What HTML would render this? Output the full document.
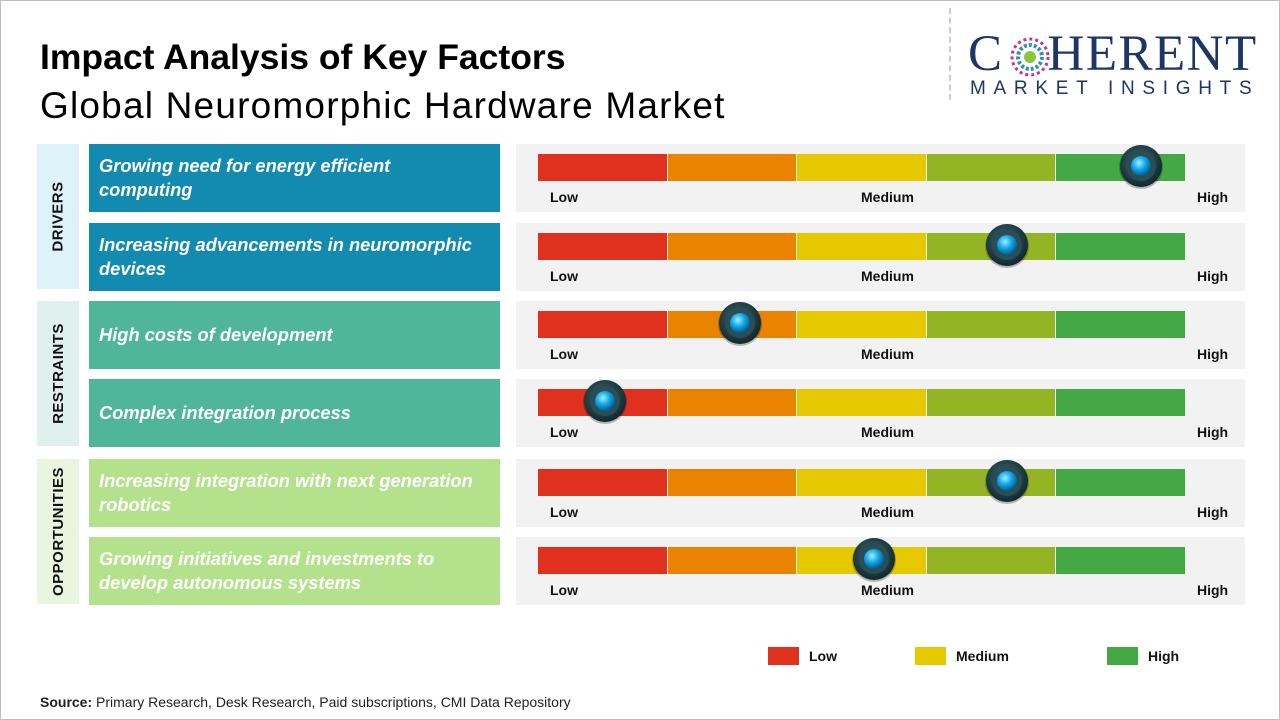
<!DOCTYPE html>
<html><head><meta charset="utf-8">
<style>
*{margin:0;padding:0;box-sizing:border-box}
body{width:1280px;height:720px;background:#fff;position:relative;overflow:hidden;font-family:"Liberation Sans",sans-serif}
.frame{position:absolute;left:0;top:0;width:1280px;height:720px;border:1px solid #bdbdbd}
.abs{position:absolute}
.t1{left:40px;top:37px;font-size:35.5px;font-weight:bold;color:#000;letter-spacing:0px}
.t2{left:40px;top:85px;font-size:37px;color:#000;letter-spacing:1.2px}
.cat{position:absolute;left:37px;width:42px;display:flex;align-items:center;justify-content:center}
.cat span{transform:rotate(-90deg);white-space:nowrap;font-size:15px;font-weight:bold;color:#111;letter-spacing:0.5px}
.fac{position:absolute;left:89px;width:411px;height:68px;color:#fff;font-style:italic;font-weight:bold;font-size:18.3px;line-height:24px;padding:0 10px;display:flex;align-items:center;white-space:nowrap}
.panel{position:absolute;left:516px;width:729px;height:68px;background:#f2f2f2}
.lbl{position:absolute;font-size:14px;font-weight:bold;color:#111}
.leg{position:absolute;top:647px;width:31px;height:18px}
.legt{position:absolute;top:648px;font-size:14px;font-weight:bold;color:#111}
</style></head><body>
<div class="frame"></div>
<div class="abs t1">Impact Analysis of Key Factors</div>
<div class="abs t2">Global Neuromorphic Hardware Market</div>
<div class="abs" style="left:949px;top:8px;height:92px;border-left:2px dashed #ccc"></div>
<div class="abs" style="left:968px;top:28px;width:300px;height:70px">
 <div style="position:absolute;left:0;top:0;font-family:'Liberation Serif',serif;font-size:51px;color:#1d3567;line-height:52px;letter-spacing:1.5px">C<span style="display:inline-block;width:44px"></span>HERENT</div>
 <svg style="position:absolute;left:42px;top:9px" width="40" height="40">
  <circle cx="20" cy="20" r="18" fill="none" stroke="#c03a8a" stroke-width="3" stroke-dasharray="3 3"/>
  <circle cx="20" cy="20" r="12" fill="none" stroke="#3a8fb0" stroke-width="4" stroke-dasharray="3 2"/>
  <circle cx="20" cy="20" r="6" fill="#8cc63f"/>
 </svg>
 <div style="position:absolute;left:2px;top:50px;font-size:19px;color:#1d3567;letter-spacing:7.7px">MARKET INSIGHTS</div>
</div>

<div class="cat" style="top:144px;height:145px;background:#def2fa"><span>DRIVERS</span></div>
<div class="cat" style="top:301px;height:145px;background:#e0f0ec"><span>RESTRAINTS</span></div>
<div class="cat" style="top:459px;height:145px;background:#e9f5df"><span>OPPORTUNITIES</span></div>

<div id="rows"></div>

<div class="leg" style="left:768px;background:#e0301e"></div>
<div class="legt" style="left:809px">Low</div>
<div class="leg" style="left:915px;background:#e6c800"></div>
<div class="legt" style="left:956px">Medium</div>
<div class="leg" style="left:1107px;background:#44a844"></div>
<div class="legt" style="left:1148px">High</div>

<div class="abs" style="left:40px;top:694px;font-size:14px;color:#222"><b>Source:</b> Primary Research, Desk Research, Paid subscriptions, CMI Data Repository</div>

<script>
const factors = ["Growing need for energy efficient\ncomputing","Increasing advancements in neuromorphic\ndevices","High costs of development","Complex integration process","Increasing integration with next generation\nrobotics","Growing initiatives and investments to\ndevelop autonomous systems"];
const impactValues = [4.65, 3.62, 1.56, 0.52, 3.62, 2.59];
const scaleLabels = ["Low","Medium","High"];
const scaleMax = 5;

const rowTops=[144,223,301,379,459,537];
const facColors=["#138ab0","#138ab0","#4fb699","#4fb699","#b4e28c","#b4e28c"];
const segColors=["#e0301e","#ea8400","#e6c800","#93b524","#44a844"];
const barX=538, barW=648;
function xScale(v){return barX + v/scaleMax*barW;}
const root=document.getElementById('rows');
factors.forEach((f,i)=>{
  const top=rowTops[i];
  const fb=document.createElement('div');
  fb.className='fac';fb.style.top=top+'px';fb.style.background=facColors[i];
  fb.innerHTML='<div>'+f.split('\n').join('<br>')+'</div>';
  
  
  root.appendChild(fb);
  const p=document.createElement('div');
  p.className='panel';p.style.top=top+'px';
  
  
  root.appendChild(p);
  for(let s=0;s<5;s++){
    const seg=document.createElement('div');
    seg.className='abs';
    const x0=xScale(s), x1=xScale(s+1);
    seg.style.cssText=`left:${x0}px;top:${top+10}px;width:${x1-x0-1}px;height:27px;background:${segColors[s]}`;
    
    
    root.appendChild(seg);
  }
  const pos=[xScale(0)+12, xScale(scaleMax/2)-1, xScale(scaleMax)+11];
  scaleLabels.forEach((l,j)=>{
    const t=document.createElement('div');
    t.className='lbl';t.textContent=l;
    t.style.left=pos[j]+'px';t.style.top=(top+45)+'px';
    
    
    root.appendChild(t);
  });
  const cx=xScale(impactValues[i]), cy=top+22;
  const k=document.createElementNS('http://www.w3.org/2000/svg','svg');
  k.setAttribute('width','52');k.setAttribute('height','52');
  k.style.cssText=`position:absolute;left:${cx-26}px;top:${cy-26}px`;
  k.innerHTML=`<defs><radialGradient id="g${i}" cx="40%" cy="35%" r="65%"><stop offset="0" stop-color="#9ff0ff"/><stop offset="0.5" stop-color="#12a8e8"/><stop offset="1" stop-color="#075a8a"/></radialGradient><radialGradient id="o${i}" cx="45%" cy="40%" r="60%"><stop offset="0" stop-color="#3e6a72"/><stop offset="1" stop-color="#10282d"/></radialGradient></defs><circle cx="26" cy="27" r="22" fill="rgba(0,0,0,0.25)"/><circle cx="26" cy="26" r="21" fill="url(#o${i})"/><circle cx="26" cy="26" r="15" fill="#2b4d55"/><circle cx="26" cy="26" r="10" fill="url(#g${i})"/>`;
  
  
  root.appendChild(k);
});
</script>
</body></html>
